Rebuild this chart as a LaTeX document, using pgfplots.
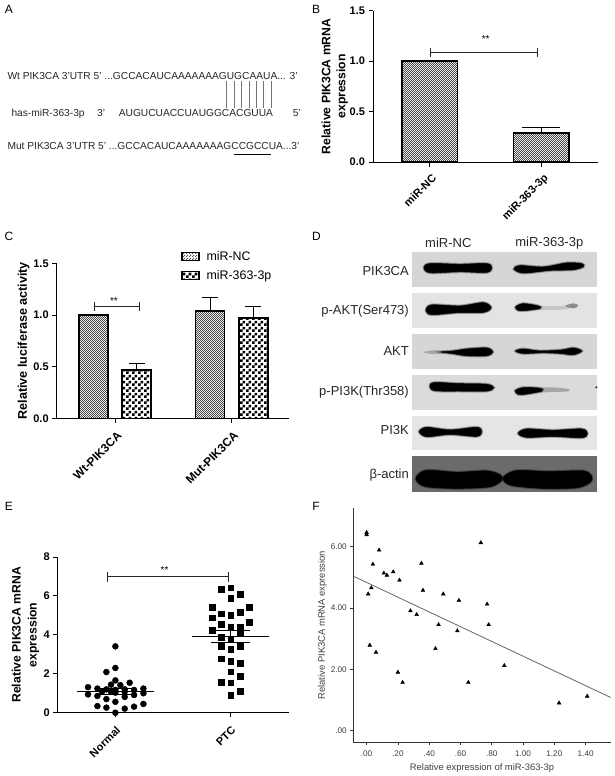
\documentclass[border=0pt]{standalone}
\usepackage{fontspec}
\setmainfont{Liberation Sans}
\usepackage{pgfplots}
\pgfplotsset{compat=1.18}
\usetikzlibrary{patterns}
\pgfdeclarepatternformonly{finecheck}{\pgfqpoint{0pt}{0pt}}{\pgfqpoint{2.4pt}{2.4pt}}{\pgfqpoint{2.4pt}{2.4pt}}{%
  \pgfpathrectangle{\pgfqpoint{0pt}{0pt}}{\pgfqpoint{1.2pt}{1.2pt}}%
  \pgfpathrectangle{\pgfqpoint{1.2pt}{1.2pt}}{\pgfqpoint{1.2pt}{1.2pt}}%
  \pgfusepath{fill}}
\pgfdeclarepatternformonly{coarsecheck}{\pgfqpoint{0pt}{0pt}}{\pgfqpoint{6pt}{6pt}}{\pgfqpoint{6pt}{6pt}}{%
  \pgfpathrectangle{\pgfqpoint{0pt}{0pt}}{\pgfqpoint{3pt}{3pt}}%
  \pgfpathrectangle{\pgfqpoint{3pt}{3pt}}{\pgfqpoint{3pt}{3pt}}%
  \pgfusepath{fill}}
\definecolor{fineg}{gray}{0.3}
\pgfplotsset{
  gp/.style={
    scale only axis, axis lines=left, axis line style={-,line width=0.9pt,black},
    enlargelimits=false, clip=false, tick align=outside,
    major tick length=4.5pt, tick style={line width=0.9pt,black},
    ticklabel style={font=\fontsize{11}{12}\selectfont\bfseries},
    xticklabel style={rotate=45,anchor=north east,font=\fontsize{11}{12}\selectfont\bfseries},
    /pgf/number format/assume math mode=true,
    yticklabel style={/pgf/number format/fixed},
  },
  barstyle/.style={ybar,draw=black,line width=1.6pt},
  errstyle/.style={draw=none,forget plot,error bars/.cd,y dir=plus,y explicit,
     error bar style={line width=1.1pt,black},
     error mark options={rotate=90,line width=1.1pt,mark size=#1,black}},
}
\tikzset{blot/.style={fill=black,draw=black,line width=0.5pt,preaction={draw=black,opacity=.25,line width=3pt},preaction={draw=black,opacity=.35,line width=1.6pt}}}
\begin{document}
\begin{tikzpicture}[x=1pt,y=-1pt]
\path[use as bounding box] (0,0) rectangle (615,776);

% ---------- panel letters
\foreach \l/\x/\y in {A/9/9,B/316/9,C/9/236,D/316.5/236,E/9/506,F/316/506}
  \node[font=\fontsize{12}{12}\selectfont] at (\x,\y) {\l};

% ---------- panel A
\begin{scope}[x=0.33333pt,y=-0.33333pt]
\tikzset{seq/.style={anchor=base west,inner sep=0pt,font=\fontsize{10.2}{10}\selectfont,text=black!85}}
\node[seq] at (22,240) {Wt PIK3CA 3'UTR 5' ...GCCACAUCAAAAAAAGUGCAAUA... 3'};
\node[seq] at (34,349) {has-miR-363-3p};
\node[seq] at (291,349) {3'};
\node[seq] at (356,349) {AUGUCUACCUAUGGCACGUUA};
\node[seq] at (878,349) {5'};
\node[seq] at (22,449) {Mut PIK3CA 3'UTR 5' ...GCCACAUCAAAAAAAGCCGCCUA...3'};
\foreach \x in {679,702,725,748,770,791,814}
  \draw[black!55,line width=0.7pt] (\x,243) -- (\x,325);
\draw[black,line width=0.9pt] (703,463) -- (812,463);
\end{scope}

% ---------- panel B
\begin{axis}[gp,at={(373pt,-162pt)},anchor=south west,width=225pt,height=151.3pt,
  xmin=-0.507,xmax=1.51,ymin=0,ymax=1.5,xtick={0,1},xticklabels={miR-NC,miR-363-3p},
  xticklabel style={yshift=-2.5pt},
  ytick={0,0.5,1,1.5},yticklabel style={/pgf/number format/fixed zerofill,/pgf/number format/precision=1},
  ylabel style={font=\fontsize{12.2}{15}\selectfont\bfseries,align=center},
  ylabel={Relative PIK3CA mRNA\\expression},ylabel shift=-5pt]
\addplot[barstyle,pattern=finecheck,pattern color=fineg,bar width=55.6pt,bar shift=0pt]
  coordinates {(0,1.0) (1,0.29)};
\addplot[errstyle=19pt] coordinates {(1,0.29) +- (0,0.05)};
\end{axis}
% ---------- panel C
\begin{axis}[gp,at={(56.7pt,-418.3pt)},anchor=south west,width=232.3pt,height=155pt,
  xmin=-0.5,xmax=1.491,ymin=0,ymax=1.5,xtick={0,1},xticklabels={Wt-PIK3CA,Mut-PIK3CA},
  xticklabel style={font=\fontsize{11.8}{12}\selectfont\bfseries,xshift=-1pt,yshift=-3pt},
  ytick={0,0.5,1,1.5},yticklabel style={/pgf/number format/fixed zerofill,/pgf/number format/precision=1},
  ylabel style={font=\fontsize{12.6}{15}\selectfont\bfseries},
  ylabel={Relative luciferase activity},ylabel shift=-3pt,
  legend style={at={(0.535,1.09)},anchor=north west,draw=none,fill=none,inner sep=0pt,
    font=\fontsize{12.4}{13}\selectfont,row sep=4.5pt,column sep=5pt},
  legend cell align=left,
  legend image code/.code={\draw[#1,line width=1.4pt] (0pt,-4pt) rectangle (17pt,4pt);}]
\addplot[barstyle,pattern=finecheck,pattern color=fineg,bar width=29pt,bar shift=-21.6pt]
  coordinates {(0,1.0) (1,1.04)};
\addlegendentry{miR-NC}
\addplot[barstyle,pattern=coarsecheck,pattern color=black,bar width=29pt,bar shift=21.6pt]
  coordinates {(0,0.47) (1,0.97)};
\addlegendentry{miR-363-3p}
\addplot[errstyle=8pt] coordinates {(0.815,1.04) +- (0,0.13) (0.185,0.47) +- (0,0.06) (1.185,0.97) +- (0,0.11)};
\end{axis}
% ---------- panel E
\begin{axis}[gp,at={(57.7pt,-712.7pt)},anchor=south west,width=231.3pt,height=155.7pt,
  xmin=-0.5,xmax=1.505,ymin=0,ymax=8,xtick={0,1},xticklabels={Normal,PTC},
  xticklabel style={xshift=-2.5pt,yshift=-2.5pt},
  ytick={0,2,4,6,8},
  ylabel style={font=\fontsize{12.2}{16}\selectfont\bfseries,align=center},
  ylabel={Relative PIK3CA mRNA\\expression},ylabel shift=-2.5pt]
\addplot[only marks,mark=*,mark size=3pt,black] coordinates {
(0,3.41)(-0.078,2.09)(0,2.30)(0,1.66)(-0.038,1.44)(0.043,1.42)(0.124,1.54)
(-0.237,1.31)(-0.156,1.24)(-0.078,1.20)(0,1.17)(0.081,1.20)(0.162,1.17)(0.243,1.24)
(-0.237,0.94)(-0.156,0.86)(-0.116,1.08)(-0.038,1.08)(0,1.03)(0.081,1.08)(0.162,0.91)(0.243,1.00)
(-0.078,0.70)(0.081,0.81)(0,0.56)
(-0.156,0.34)(-0.078,0.26)(0.081,0.21)(0.162,0.31)(0.243,0.45)(0,0)};
\addplot[only marks,mark=square*,mark size=2.9pt,black] coordinates {
(0.92,6.34)(1,6.42)(1.081,6.10)(1,5.87)(0.841,5.41)(1.16,5.43)(0.92,5.09)(1,5.02)(1.081,5.15)
(0.841,4.88)(0.92,4.54)(1.16,4.65)(1,4.42)(1.081,4.42)(0.841,4.23)(1.081,4.13)(0.92,3.87)(1,3.79)
(0.92,3.43)(1.081,3.43)(1,3.25)(0.92,2.78)(1,2.66)(1.081,2.54)(1,2.11)(1.081,1.88)(0.92,1.57)(1,1.54)(1.081,1.11)(1,0.89)};
\addplot[black,line width=1pt] coordinates {(-0.335,1.08)(0.335,1.08)};
\addplot[black,line width=1pt] coordinates {(-0.16,1.24)(0.16,1.24)};
\addplot[black,line width=1pt] coordinates {(-0.16,0.94)(0.16,0.94)};
\addplot[black,line width=1pt] coordinates {(0,0.94)(0,1.24)};
\addplot[black,line width=1pt] coordinates {(0.665,3.91)(1.335,3.91)};
\addplot[black,line width=1pt] coordinates {(0.83,4.20)(1.17,4.20)};
\addplot[black,line width=1pt] coordinates {(0.83,3.63)(1.17,3.63)};
\addplot[black,line width=1pt] coordinates {(1,3.63)(1,4.20)};
\end{axis}
% ---------- panel F
\begin{axis}[scale only axis,at={(353.3pt,-742.3pt)},anchor=south west,width=257.4pt,height=234.3pt,
  axis lines=left,axis line style={-,line width=0.7pt,black!80},enlargelimits=false,
  xmin=-0.085,xmax=1.56,ymin=-0.38,ymax=7.25,
  tick align=outside,major tick length=3pt,tick style={line width=0.6pt,black!80},
  xtick={0,0.2,0.4,0.6,0.8,1,1.2,1.4},
  xticklabels={.00,.20,.40,.60,.80,1.00,1.20,1.40},
  ytick={0,2,4,6},yticklabels={.00,2.00,4.00,6.00},
  ticklabel style={font=\fontsize{8.2}{10}\selectfont,text=black!75},
  xticklabel style={yshift=-1.5pt},
  xlabel={Relative expression of miR-363-3p},
  ylabel={Relative PIK3CA mRNA expression},
  label style={font=\fontsize{9.4}{10}\selectfont,text=black!75},
  xlabel shift=1pt,ylabel shift=-3pt]
\addplot[only marks,mark=triangle*,mark size=2.2pt,black] coordinates {
(0,6.45)(0,6.38)(0.73,6.12)(0.08,5.88)(0.04,5.42)(0.35,5.45)(0.17,5.17)(0.11,5.13)(0.13,5.06)(0.21,4.90)
(0.03,4.65)(0.36,4.57)(0.01,4.45)(0.49,4.45)(0.59,4.24)(0.77,4.12)(0.28,3.90)(0.32,3.78)(0.46,3.45)(0.78,3.45)
(0.58,3.25)(0.02,2.78)(0.44,2.67)(0.06,2.55)(0.88,2.12)(0.20,1.90)(0.23,1.57)(0.65,1.57)(1.23,0.90)(1.41,1.12)};
\addplot[black!60,line width=0.8pt] coordinates {(-0.085,5.03)(1.56,1.08)};
\end{axis}

% ---------- significance brackets
\tikzset{br/.style={line width=0.9pt,black!85},star/.style={font=\fontsize{10}{10}\selectfont,inner sep=0pt}}
\draw[br] (430.7,52.3) -- (537.7,52.3) (430.7,47.7) -- (430.7,56.7) (537.7,47.7) -- (537.7,56.7);
\node[star] at (485.7,39) {**};
\draw[br] (94.3,306.3) -- (139.3,306.3) (94.3,302) -- (94.3,311) (139.3,302) -- (139.3,311);
\node[star] at (114,301) {**};
\draw[br] (107.7,576.3) -- (228,576.3) (107.7,572) -- (107.7,581.5) (228,572) -- (228,581.5);
\node[star] at (164.5,570) {**};

% ---------- panel D
\begin{scope}[x=0.33333pt,y=-0.33333pt,shift={(930,675)}]
\foreach \l/\x/\y in {miR-NC/415/55,miR-363-3p/718/55}
  \node[font=\fontsize{13}{12}\selectfont,text=black!85] at (\x,\y) {\l};
\foreach \t/\b/\g/\n/\yy in {80/185/84/PIK3CA/137,204/308/89/p-AKT(Ser473)/258,328/432/84/AKT/377,451/554/86/p-PI3K(Thr358)/502,572/675/90/PI3K/614}{
  \fill[black!\the\numexpr100-\g\relax] (307,\t) rectangle (860,\b);
  \node[anchor=east,inner sep=0pt,font=\fontsize{13}{12}\selectfont,text=black!85] at (297,\yy) {\n};
}
\node[anchor=east,inner sep=0pt,font=\fontsize{13}{12}\selectfont,text=black!85] at (297,750) {β-actin};
\fill[black!58] (307,693) rectangle (860,800);
\filldraw[blot] plot[smooth cycle] coordinates {(342,128)(360,116)(450,118)(530,116)(545,128)(530,142)(450,140)(360,143)};
\filldraw[blot] plot[smooth cycle] coordinates {(612,132)(630,122)(700,126)(770,114)(815,116)(820,125)(790,134)(720,136)(640,144)};
\filldraw[blot] plot[smooth cycle] coordinates {(348,256)(365,240)(450,243)(520,233)(543,248)(520,262)(440,263)(365,269)};
\fill[black!22] plot[smooth cycle] coordinates {(680,243)(730,243)(775,243)(775,252)(730,255)(680,254)};
\filldraw[blot] plot[smooth cycle] coordinates {(617,246)(640,236)(685,243)(690,250)(650,256)(625,256)};
\fill[black!45] plot[smooth cycle] coordinates {(765,243)(790,235)(805,242)(790,250)};
\fill[black!35] plot[smooth cycle] coordinates {(340,382)(370,376)(400,378)(400,387)(370,387)};
\filldraw[blot] plot[smooth cycle] coordinates {(395,381)(430,378)(470,372)(530,369)(548,381)(530,392)(470,392)(430,386)};
\filldraw[blot] plot[smooth cycle] coordinates {(617,378)(640,372)(690,378)(755,375)(790,369)(815,378)(790,389)(750,385)(700,383)(640,385)};
\filldraw[blot] plot[smooth cycle] coordinates {(360,485)(372,473)(450,476)(530,478)(551,488)(530,498)(450,498)(375,497)};
\fill[black!35] plot[smooth cycle] coordinates {(680,489)(730,487)(775,492)(775,499)(730,501)(680,502)};
\filldraw[blot] plot[smooth cycle] coordinates {(616,497)(640,488)(690,490)(695,498)(650,507)(625,508)};
\fill[black!70] (859,487) circle (4);
\filldraw[blot] plot[smooth cycle] coordinates {(328,620)(350,607)(420,615)(500,607)(515,620)(500,634)(420,628)(350,635)};
\filldraw[blot] plot[smooth cycle] coordinates {(625,625)(650,612)(730,616)(815,612)(832,626)(815,638)(730,634)(650,637)};
\filldraw[blot] plot[smooth cycle] coordinates {(320,755)(350,736)(440,742)(530,738)(570,750)(575,765)(540,785)(440,790)(350,785)(322,770)};
\filldraw[blot] plot[smooth cycle] coordinates {(582,755)(620,737)(720,740)(820,738)(845,755)(840,772)(800,788)(700,790)(610,782)(584,770)};
\end{scope}
\end{tikzpicture}
\end{document}
